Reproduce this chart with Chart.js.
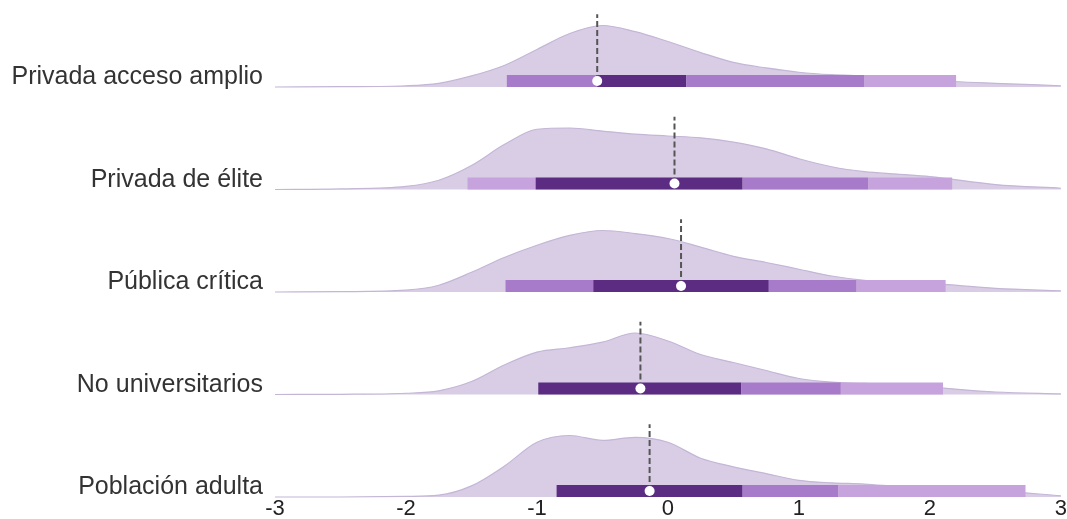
<!DOCTYPE html>
<html>
<head>
<meta charset="utf-8">
<script src="https://cdn.jsdelivr.net/npm/chart.js@4/dist/chart.umd.min.js"></script>
<style>
    html, body { margin: 0; padding: 0; background: #ffffff; }
    #wrap { width: 1067px; height: 519px; }
</style>
</head>
<body>
<div id="wrap"><canvas id="chart"></canvas></div>
<script>
// groups, top to bottom
let categories = ["Privada acceso amplio", "Privada de élite", "Pública crítica", "No universitarios", "Población adulta"];

let medians = [-0.54, 0.05, 0.10, -0.21, -0.14];

// interval bars: break points and the interval level of each piece (1 = inner, 2 = middle, 3 = outer)
let intervalBreaks = [
    [-1.23, -0.54, 0.14, 1.50, 2.20],
    [-1.53, -1.01, 0.57, 1.53, 2.17],
    [-1.24, -0.57, 0.77, 1.44, 2.12],
    [-0.99, 0.56, 1.32, 2.10],
    [-0.85, 0.57, 1.30, 2.73]
];
let intervalLevels = [
    [2, 1, 2, 3],
    [3, 1, 2, 3],
    [2, 1, 2, 3],
    [1, 2, 3],
    [1, 2, 3]
];

// relative density (peak = 1) on a common grid
let densityX = [-3, -2.5, -2, -1.75, -1.5, -1.25, -1, -0.75, -0.5, -0.25, 0, 0.25, 0.5, 0.75, 1, 1.25, 1.5, 1.75, 2, 2.5, 3];
let densityAmplio = [0, 0.005, 0.02, 0.06, 0.18, 0.35, 0.61, 0.87, 1.0, 0.90, 0.74, 0.56, 0.40, 0.31, 0.24, 0.20, 0.18, 0.15, 0.11, 0.06, 0.02];
let densityElite = [0, 0.01, 0.05, 0.15, 0.39, 0.73, 0.98, 1.0, 0.95, 0.90, 0.87, 0.84, 0.77, 0.66, 0.50, 0.37, 0.29, 0.25, 0.21, 0.08, 0.02];
let densityPublica = [0, 0.005, 0.03, 0.11, 0.32, 0.56, 0.76, 0.92, 1.0, 0.95, 0.87, 0.73, 0.58, 0.48, 0.37, 0.26, 0.19, 0.16, 0.14, 0.06, 0.02];
let densityNoUniv = [0, 0.003, 0.02, 0.06, 0.21, 0.48, 0.69, 0.76, 0.85, 1.0, 0.87, 0.65, 0.52, 0.39, 0.26, 0.20, 0.18, 0.15, 0.12, 0.04, 0.01];
let densityAdulta = [0, 0, 0.01, 0.03, 0.18, 0.50, 0.89, 1.0, 0.92, 0.97, 0.89, 0.63, 0.49, 0.38, 0.27, 0.23, 0.21, 0.17, 0.14, 0.10, 0.02];
let densities = [densityAmplio, densityElite, densityPublica, densityNoUniv, densityAdulta];

let xTicks = [-3, -2, -1, 0, 1, 2, 3];


let levelColors = {1: "#5b2c82", 2: "#a77bc9", 3: "#c6a3dc"};
let ridgeHeight = 0.6;
let barOffset = 0.058;
let lineTop = 0.71;
let labelOffset = 0.095;

function baseOf(i) {
    return categories.length - 1 - i;
}

let datasets = [];
for (let i = 0; i < categories.length; i++) {
    let base = baseOf(i);
    let pts = [];
    for (let j = 0; j < densityX.length; j++) {
        pts.push({x: densityX[j], y: base + densities[i][j] * ridgeHeight});
    }
    datasets.push({
        data: pts,
        order: 4,
        fill: {value: base},
        backgroundColor: "#d9cde6",
        borderColor: "#c3b6d6",
        borderWidth: 1.2,
        cubicInterpolationMode: "monotone",
        pointRadius: 0,
        clip: false
    });

    let levels = intervalLevels[i];
    datasets.push({
        data: intervalBreaks[i].map(v => ({x: v, y: base + barOffset})),
        order: 3,
        borderWidth: 12,
        borderCapStyle: "butt",
        pointRadius: 0,
        fill: false,
        segment: {
            borderColor: ctx => levelColors[levels[ctx.p0DataIndex]]
        },
        clip: false
    });

    datasets.push({
        data: [{x: medians[i], y: base + barOffset}, {x: medians[i], y: base + lineTop}],
        order: 2,
        borderColor: "#555555",
        borderWidth: 2,
        borderDash: [6, 3],
        pointRadius: 0,
        fill: false,
        clip: false
    });

    datasets.push({
        data: [{x: medians[i], y: base + barOffset}],
        order: 1,
        showLine: false,
        pointRadius: 5,
        pointBackgroundColor: "#ffffff",
        pointBorderWidth: 0,
        clip: false
    });
}

let ctx = document.getElementById("chart").getContext("2d");
let chart = new Chart(ctx, {
    type: "line",
    data: {datasets: datasets},
    options: {
        responsive: true,
        maintainAspectRatio: false,
        animation: false,
        layout: {padding: 0},
        plugins: {
            legend: {display: false},
            tooltip: {enabled: false}
        },
        scales: {
            x: {
                type: "linear",
                min: -3,
                max: 3,
                afterBuildTicks: scale => {
                    scale.ticks = xTicks.map(v => ({value: v}));
                },
                afterFit: scale => {
                    scale.height = 21;
                },
                ticks: {
                    padding: 0,
                    color: "#222222",
                    font: {family: "'Liberation Sans', Arial, sans-serif", size: 22, lineHeight: 1},
                    callback: v => String(v)
                },
                grid: {display: false, drawTicks: false},
                border: {display: false}
            },
            y: {
                type: "linear",
                min: -0.01,
                max: 4.80,
                afterBuildTicks: scale => {
                    let t = [];
                    for (let i = categories.length - 1; i >= 0; i--) {
                        t.push({value: baseOf(i) + labelOffset});
                    }
                    scale.ticks = t;
                },
                afterFit: scale => {
                    scale.width = 275;
                    scale.paddingTop = 0;
                    scale.paddingBottom = 0;
                },
                ticks: {
                    padding: 12,
                    color: "#333333",
                    font: {family: "'Liberation Sans', Arial, sans-serif", size: 25},
                    callback: (v, idx) => categories[categories.length - 1 - idx]
                },
                grid: {display: false, drawTicks: false},
                border: {display: false}
            }
        }
    }
});
</script>
</body>
</html>
